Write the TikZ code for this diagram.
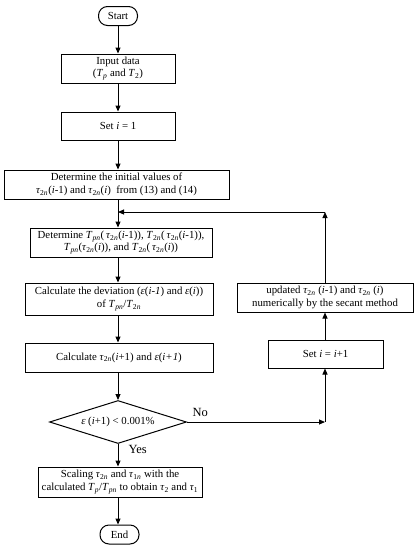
\documentclass[tikz,border=0pt]{standalone}
\usepackage{fontspec}
\setmainfont{Liberation Serif}
\usetikzlibrary{shapes.geometric,arrows.meta}
\newcommand{\taun}{\textit{τ}\textsubscript{2\textit{n}}}
\newcommand{\ti}[1]{\textit{#1}}
\begin{document}
\begin{tikzpicture}[x=1pt,y=-1pt,
  box/.style={draw,line width=1pt,minimum width=#1,inner sep=1pt,align=center,font=\fontsize{10.8}{12.5}\selectfont},
  term/.style={draw,line width=1pt,rounded corners=9pt,minimum width=39pt,minimum height=19pt,inner sep=1pt,font=\fontsize{10.8}{12.5}\selectfont},
  arr/.style={line width=1pt,-{Triangle[length=6pt,width=5pt]}},
  lbl/.style={font=\fontsize{12.5}{14}\selectfont}]
\useasboundingbox (0,0) rectangle (419,550);
\node[term] (start) at (118,16) {Start};
\node[box=114pt,minimum height=29pt] (input) at (118,68.5) {Input data\\(\ti{T}\textsubscript{\ti{p}} and \ti{T}\textsubscript{2})};
\node[box=114pt,minimum height=28pt] (set1) at (118,126) {Set \ti{i} = 1};
\node[box=225pt,minimum height=29pt] (init) at (116.5,184.5) {Determine the initial values of\\\taun(\ti{i}-1) and \taun(\ti{i})\ \ from (13) and (14)};
\node[box=182pt,minimum height=29pt] (det) at (121,242.5) {Determine \ti{T}\textsubscript{\ti{pn}}(\,\taun(\ti{i}-1)), \ti{T}\textsubscript{2\ti{n}}(\,\taun(\ti{i}-1)),\\\ti{T}\textsubscript{\ti{pn}}(\taun(\ti{i})), and \ti{T}\textsubscript{2\ti{n}}(\,\taun(\ti{i}))};
\node[box=188pt,minimum height=32pt] (dev) at (119,299) {Calculate the deviation (\ti{ε}(\ti{i-1}) and \ti{ε}(\ti{i}))\\of \ti{T}\textsubscript{\ti{pn}}/\ti{T}\textsubscript{2\ti{n}}};
\node[box=188pt,minimum height=29pt] (calc) at (119,357.5) {Calculate \taun(\ti{i}+1) and \ti{ε}(\ti{i+1})};
\node[draw,line width=1pt,diamond,aspect=3.2,minimum width=137pt,minimum height=43pt,inner sep=0pt,font=\fontsize{10.8}{12.5}\selectfont] (dec) at (118,422) {\ti{ε} (\ti{i}+1) < 0.001\%};
\node[box=164pt,minimum height=30pt] (scale) at (120,482) {Scaling \taun\ and \ti{τ}\textsubscript{1\ti{n}} with the\\calculated \ti{T}\textsubscript{\ti{p}}/\ti{T}\textsubscript{\ti{pn}} to obtain \ti{τ}\textsubscript{2} and \ti{τ}\textsubscript{1}};
\node[term] (end) at (119.5,534.5) {End};
\node[box=115pt,minimum height=28pt] (seti) at (325.5,354) {Set \ti{i} = \ti{i}+1};
\node[box=176pt,minimum height=29pt] (upd) at (325,297.5) {updated \taun\ (\ti{i}-1) and \taun\ (\ti{i})\\numerically by the secant method};
\coordinate (c1) at (325,422);
\coordinate (c2) at (325,212);
\coordinate (c3) at (118,212);
\coordinate (mx) at (118,0);
\draw[arr] (start) -- (input);
\draw[arr] (input) -- (set1);
\draw[arr] (set1) -- (init.north -| set1);
\draw[arr] (init.south -| mx) -- (det.north -| mx);
\draw[arr] (det.south -| mx) -- (dev.north -| mx);
\draw[arr] (dev.south -| mx) -- (calc.north -| mx);
\draw[arr] (calc.south -| mx) -- (dec.north);
\draw[arr] (dec.south) -- (scale.north -| mx);
\draw[arr] (scale.south -| mx) -- (end.north -| mx);
\draw[arr] (dec.east) -- (c1);
\draw[arr] (c1) -- (seti.south -| c1);
\draw[arr] (seti.north -| c1) -- (upd.south -| c1);
\draw[arr] (upd.north -| c1) -- (c2);
\draw[arr] (c2) -- (c3);
\node[lbl,anchor=south west] (no) at (189,420) {No};
\node[lbl,anchor=west] (yes) at (125,449) {Yes};
\end{tikzpicture}
\end{document}
